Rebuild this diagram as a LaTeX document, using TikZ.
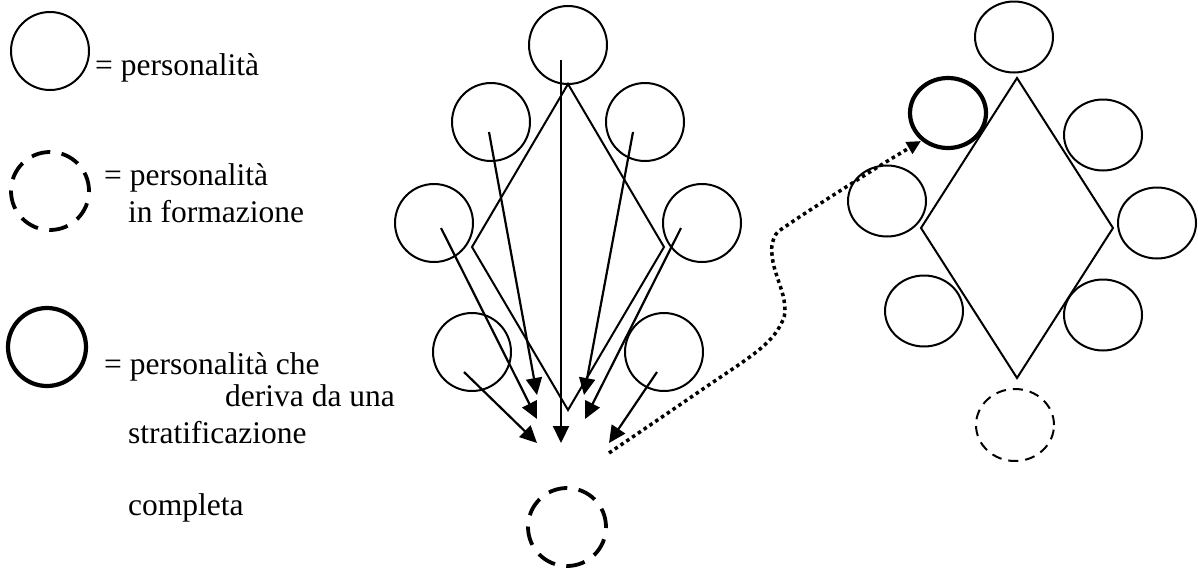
\documentclass[tikz,border=0pt]{standalone}
\usepackage{fontspec}
\setmainfont{Liberation Serif}
\usetikzlibrary{arrows.meta,shapes.geometric}
\tikzset{
  pers/.style={circle,draw,line width=2pt,minimum size=78pt,inner sep=0pt},
  persR/.style={ellipse,draw,line width=2pt,minimum width=78pt,minimum height=71pt,inner sep=0pt},
  formthick/.style={circle,draw,line width=3.8pt,dash pattern=on 19pt off 11.5pt,minimum size=78pt,inner sep=0pt},
  formthin/.style={ellipse,draw,line width=2pt,dash pattern=on 10pt off 7pt,minimum width=78pt,minimum height=72pt,inner sep=0pt},
  complete/.style={circle,draw,line width=4.2pt,minimum size=78pt,inner sep=0pt},
  completeR/.style={ellipse,draw,line width=4.2pt,minimum width=76pt,minimum height=70pt,inner sep=0pt},
  lbl/.style={anchor=base west,inner sep=0pt,font=\fontsize{31.5}{37}\selectfont},
  arr/.style={line width=2.2pt,-{Triangle[length=17pt,width=16pt]}},
  dotarr/.style={line width=3.5pt,dash pattern=on 3.5pt off 3.5pt,-{Triangle[length=14pt,width=13pt]}},
  diam/.style={line width=2pt,line join=miter}
}
\begin{document}
\begin{tikzpicture}[x=1pt,y=-1pt]
\useasboundingbox (0,0) rectangle (1198,568);
% legend
\node[pers] (L1) at (50,51) {};
\node[lbl] (T1) at (95,75) {= personalità};
\node[formthick] (L2) at (50,191) {};
\node[lbl] (T2a) at (104,185) {= personalità};
\node[lbl] (T2b) at (128,222) {in formazione};
\node[complete] (L3) at (47,347) {};
\node[lbl] (T3a) at (104,374) {= personalità che};
\node[lbl] (T3b) at (225,406) {deriva da una};
\node[lbl] (T3c) at (128,443) {stratificazione};
\node[lbl] (T3d) at (128,515) {completa};
% middle group
\draw[diam] (568,84) -- (664,247) -- (568,410) -- (472,247) -- cycle;
\node[pers] (M1) at (568,45) {};
\node[pers] (M2) at (491,122) {};
\node[pers] (M3) at (645,122) {};
\node[pers] (M4) at (434,223) {};
\node[pers] (M5) at (702,223) {};
\node[pers] (M6) at (472,352) {};
\node[pers] (M7) at (664,352) {};
\node[formthick] (MF) at (567,527) {};
\coordinate (s1) at (561,60);   \coordinate (e1) at (561,443);
\coordinate (s2) at (489,132);  \coordinate (e2) at (537,395);
\coordinate (s3) at (633,132);  \coordinate (e3) at (584,395);
\coordinate (s4) at (441,228);  \coordinate (e4) at (537,419);
\coordinate (s5) at (681,228);  \coordinate (e5) at (585,419);
\coordinate (s6) at (464,372);  \coordinate (e6) at (537,443);
\coordinate (s7) at (657,372);  \coordinate (e7) at (609,443);
\draw[arr] (s1) -- (e1);
\draw[arr] (s2) -- (e2);
\draw[arr] (s3) -- (e3);
\draw[arr] (s4) -- (e4);
\draw[arr] (s5) -- (e5);
\draw[arr] (s6) -- (e6);
\draw[arr] (s7) -- (e7);
% right group
\draw[diam] (1017,78) -- (1113,228) -- (1017,378) -- (921,228) -- cycle;
\node[persR] (R1) at (1014,37) {};
\node[completeR] (R2) at (948,113) {};
\node[persR] (R3) at (1103,135) {};
\node[persR] (R4) at (887,201) {};
\node[persR] (R5) at (1157,223) {};
\node[persR] (R6) at (924,311) {};
\node[persR] (R7) at (1103,315) {};
\node[formthin] (RF) at (1015,425) {};
% dotted wavy arrow
\coordinate (ds) at (609,453);
\coordinate (de) at (921,141);
\draw[dotarr] plot[smooth,tension=0.6] coordinates {(ds) (700,391) (760,349) (782,322) (784,300) (773,262) (774,238) (792,222) (873,170) (de)};
\end{tikzpicture}
\end{document}
